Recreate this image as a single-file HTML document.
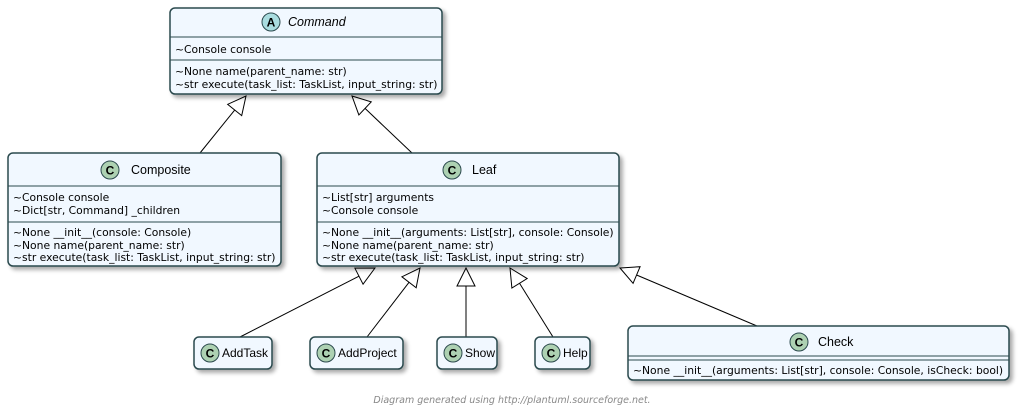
<!DOCTYPE html>
<html><head><meta charset="utf-8"><style>
body{margin:0;background:#fff;width:1022px;height:410px;overflow:hidden}
svg{font-family:"Liberation Sans",sans-serif}
</style></head><body>
<svg id="s" width="1022" height="410" xmlns="http://www.w3.org/2000/svg">
<defs><filter id="sh" x="-5%" y="-10%" width="115%" height="130%"><feGaussianBlur in="SourceAlpha" stdDeviation="2"/><feOffset dx="3" dy="3"/><feComponentTransfer><feFuncA type="linear" slope="0.35"/></feComponentTransfer><feMerge><feMergeNode/><feMergeNode in="SourceGraphic"/></feMerge></filter></defs>
<g id="lines" stroke="#000" stroke-width="1" fill="#fff"></g>
<g fill="#F1F8FF" stroke="#2C4A4E" stroke-width="1.5" filter="url(#sh)">
<rect x="170" y="8" width="272" height="86" rx="5"/>
<rect x="8" y="153" width="273" height="113" rx="5"/>
<rect x="317" y="153" width="302" height="113" rx="5"/>
<rect x="194" y="337" width="78" height="32" rx="5"/>
<rect x="310" y="337" width="93" height="32" rx="5"/>
<rect x="437" y="337" width="60" height="32" rx="5"/>
<rect x="535" y="337" width="55" height="32" rx="5"/>
<rect x="628" y="326" width="381" height="54" rx="5"/>
</g>
<g stroke="#2C4A4E" stroke-width="1">
<line x1="170" y1="37" x2="442" y2="37"/><line x1="170" y1="60" x2="442" y2="60"/>
<line x1="8" y1="186" x2="281" y2="186"/><line x1="8" y1="222" x2="281" y2="222"/>
<line x1="317" y1="186" x2="619" y2="186"/><line x1="317" y1="222" x2="619" y2="222"/>
<line x1="628" y1="356" x2="1009" y2="356"/><line x1="628" y1="360" x2="1009" y2="360"/>
</g>
<g stroke="#2C4A4E" stroke-width="1" fill="#A9DCDF">
<circle cx="271" cy="22" r="9"/>
</g>
<g stroke="#2C4A4E" stroke-width="1" fill="#ADD1B2">
<circle cx="110" cy="170" r="9"/><circle cx="452" cy="170" r="9"/>
<circle cx="210" cy="353" r="9"/><circle cx="326" cy="353" r="9"/><circle cx="453" cy="353" r="9"/><circle cx="551" cy="353" r="9"/><circle cx="799" cy="342" r="9"/>
</g>
<g font-weight="bold" font-size="12" text-anchor="middle" fill="#000">
<text x="271" y="26.5">A</text><text x="110" y="174.5">C</text><text x="452" y="174.5">C</text><text x="210" y="357.5">C</text><text x="326" y="357.5">C</text><text x="453" y="357.5">C</text><text x="551" y="357.5">C</text><text x="799" y="346.5">C</text>
</g>
<g font-size="12.5" fill="#000">
<text x="288" y="26" font-style="italic">Command</text>
<text x="131" y="174">Composite</text>
<text x="472" y="174">Leaf</text>
<text x="818" y="346">Check</text>
</g>
<g font-size="12" fill="#000">
<text x="222" y="357">AddTask</text>
<text x="338" y="357">AddProject</text>
<text x="465" y="357">Show</text>
<text x="563" y="357">Help</text>
</g>
<g font-size="10.75" fill="#000" font-family="DejaVu Sans, sans-serif">
<text x="175" y="53">~Console console</text>
<text x="175" y="75">~None name(parent_name: str)</text>
<text x="175" y="88">~str execute(task_list: TaskList, input_string: str)</text>
<text x="13" y="201">~Console console</text>
<text x="13" y="214">~Dict[str, Command] _children</text>
<text x="13" y="236">~None __init__(console: Console)</text>
<text x="13" y="249">~None name(parent_name: str)</text>
<text x="13" y="261">~str execute(task_list: TaskList, input_string: str)</text>
<text x="322" y="201">~List[str] arguments</text>
<text x="322" y="214">~Console console</text>
<text x="322" y="236">~None __init__(arguments: List[str], console: Console)</text>
<text x="322" y="249">~None name(parent_name: str)</text>
<text x="322" y="261">~str execute(task_list: TaskList, input_string: str)</text>
<text x="633" y="374">~None __init__(arguments: List[str], console: Console, isCheck: bool)</text>
</g>
<text x="512" y="403" font-size="9.5" font-style="italic" fill="#888" text-anchor="middle" font-family="DejaVu Sans, sans-serif">Diagram generated using http://plantuml.sourceforge.net.</text>
</svg>
<script>
var g=document.getElementById('lines'),ns='http://www.w3.org/2000/svg';
function a(x1,y1,x2,y2){var dx=x2-x1,dy=y2-y1,L=Math.hypot(dx,dy),ux=dx/L,uy=dy/L,s=18,w=9;
var bx=x2-ux*s,by=y2-uy*s;
var l=document.createElementNS(ns,'line');l.setAttribute('x1',x1);l.setAttribute('y1',y1);l.setAttribute('x2',bx);l.setAttribute('y2',by);g.appendChild(l);
var p=document.createElementNS(ns,'polygon');p.setAttribute('points',x2+','+y2+' '+(bx-uy*w)+','+(by+ux*w)+' '+(bx+uy*w)+','+(by-ux*w));g.appendChild(p);}
a(200,153,246,96);a(412,153,352,96);
a(240,337,375,268);a(367,337,420,268);a(466,337,466,268);a(553,337,510,268);a(757,326,620,268);
</script>
</body></html>
